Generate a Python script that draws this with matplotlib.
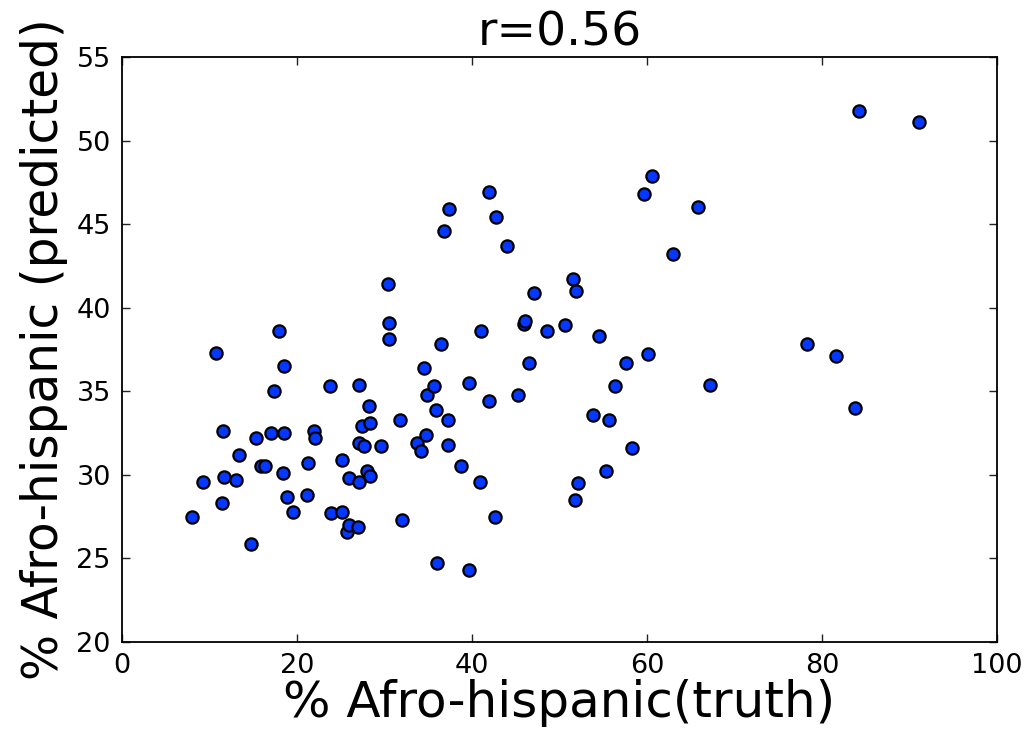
import numpy as np
import matplotlib
matplotlib.use("Agg")
import matplotlib.pyplot as plt

# % Afro-hispanic: ground truth vs predicted, one point per sample
truth = [8.0, 9.3, 10.8, 11.5, 11.4, 11.7, 13.0, 13.4, 14.8, 15.3,
         15.9, 16.4, 17.0, 17.4, 17.9, 18.4, 18.5, 18.5, 18.9, 19.6,
         21.1, 21.3, 22.0, 22.1, 23.8, 23.9, 25.1, 25.1, 25.7, 25.9,
         26.0, 27.1, 27.1, 27.05, 27.4, 27.0, 27.7, 28.0, 28.3, 28.2,
         28.3, 29.6, 30.4, 30.5, 30.5, 31.8, 32.0, 33.7, 34.2, 34.5,
         34.7, 34.9, 35.7, 35.9, 36.0, 36.5, 36.8, 37.3, 37.3, 37.4,
         38.7, 39.7, 39.7, 40.9, 41.0, 41.9, 42.0, 42.6, 42.7, 44.0,
         45.3, 45.9, 46.1, 46.5, 47.1, 48.6, 50.6, 51.6, 51.8, 51.9,
         52.1, 53.8, 54.5, 55.3, 55.7, 56.4, 57.6, 58.3, 59.7, 60.1,
         60.6, 63.0, 65.8, 67.2, 78.3, 81.6, 83.8, 84.2, 91.1]
predicted = [27.5, 29.6, 37.3, 32.6, 28.3, 29.85, 29.7, 31.2, 25.85, 32.2,
             30.5, 30.5, 32.5, 35.0, 38.6, 30.1, 32.5, 36.5, 28.7, 27.8,
             28.8, 30.7, 32.6, 32.2, 35.3, 27.7, 27.8, 30.9, 26.6, 27.0,
             29.8, 35.4, 31.9, 29.6, 32.9, 26.9, 31.7, 30.2, 33.1, 34.1,
             29.9, 31.7, 41.4, 39.1, 38.1, 33.3, 27.3, 31.9, 31.4, 36.4,
             32.4, 34.8, 35.3, 33.9, 24.7, 37.8, 44.6, 33.3, 31.8, 45.9,
             30.5, 35.5, 24.3, 29.6, 38.6, 46.9, 34.4, 27.5, 45.4, 43.7,
             34.8, 39.0, 39.2, 36.7, 40.9, 38.6, 38.95, 41.7, 28.5, 41.0,
             29.5, 33.6, 38.3, 30.2, 33.3, 35.3, 36.7, 31.6, 46.8, 37.2,
             47.9, 43.2, 46.0, 35.4, 37.8, 37.1, 34.0, 51.75, 51.1]

x_ticks = [0, 20, 40, 60, 80, 100]
y_ticks = [20, 25, 30, 35, 40, 45, 50, 55]

fig = plt.figure(figsize=(10.31, 7.31), dpi=100)
ax = fig.add_axes([0.1183, 0.1218, 0.8487, 0.8003])

ax.scatter(truth, predicted, s=78, c='#0538ff', edgecolors='black',
           linewidths=1.6, zorder=3)

ax.set_xlim(0, 100)
ax.set_ylim(20, 55)
ax.set_xticks(x_ticks)
ax.set_yticks(y_ticks)
ax.tick_params(direction='in', length=6, width=1, top=True, right=True,
               labelsize=19.5, pad=8, colors='#222222', labelcolor='black')
for sp in ax.spines.values():
    sp.set_linewidth(1.3)

ax.set_title('r=0.56', fontsize=34, pad=8)
ax.set_xlabel('% Afro-hispanic(truth)', fontsize=36, labelpad=0)
ax.set_ylabel('% Afro-hispanic (predicted)', fontsize=35, labelpad=6)

fig.savefig('out.png', dpi=100)
